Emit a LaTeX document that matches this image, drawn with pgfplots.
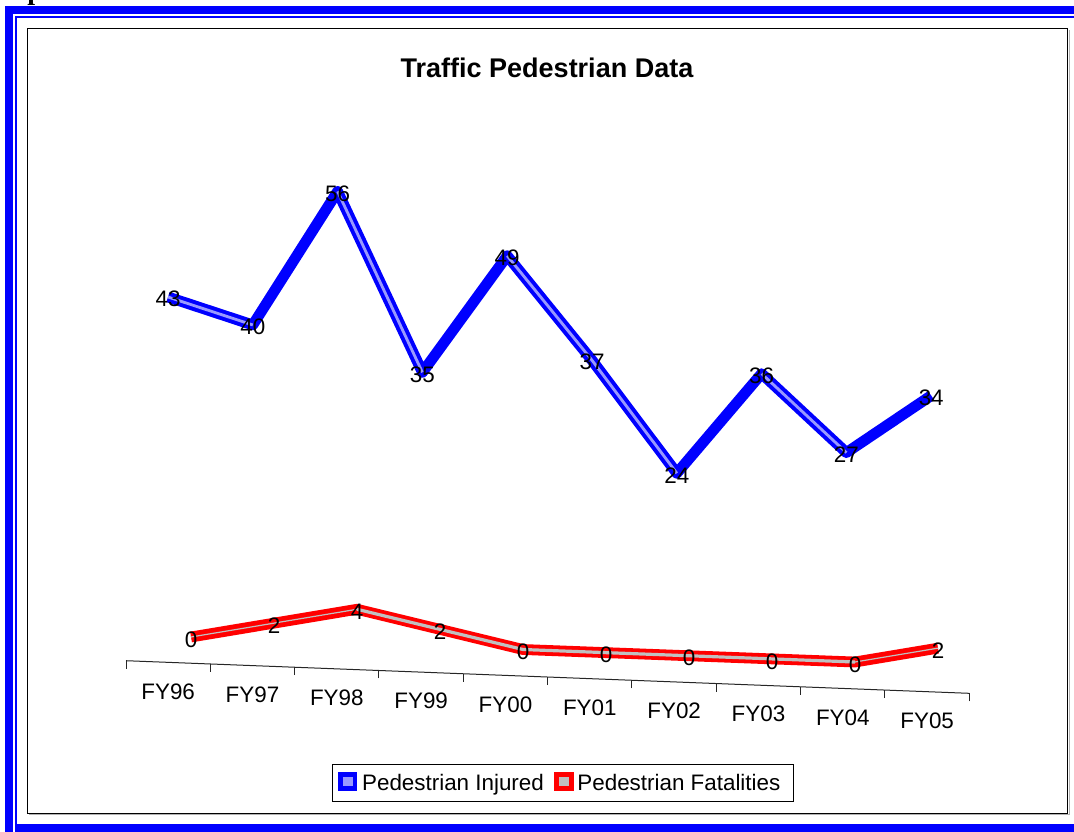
\documentclass[border=0pt]{standalone}
\usepackage{pgfplots}
\pgfplotsset{compat=1.18}
\usepackage{fontspec}
\setmainfont{Liberation Sans}
\newfontfamily\serifbold{Liberation Serif}
\definecolor{xlblue}{RGB}{0,0,255}
\definecolor{xllight}{RGB}{153,153,255}
\definecolor{xlred}{RGB}{255,0,0}
\definecolor{xlgray}{RGB}{192,192,192}
\newcommand{\lfont}{\fontsize{11.2}{13}\selectfont}
\begin{document}
\begin{tikzpicture}
\path[use as bounding box] (0pt,0pt) rectangle (537pt,-415.5pt);
% outer blue border
\fill[xlblue] (2.5pt,-3pt) rectangle (6.65pt,-420pt);
\fill[xlblue] (2.5pt,-3pt) rectangle (540pt,-7pt);
\fill[xlblue] (7.5pt,-7.85pt) rectangle (8.5pt,-420pt);
\fill[xlblue] (7.5pt,-7.85pt) rectangle (540pt,-8.85pt);
\fill[xlblue] (7.5pt,-412pt) rectangle (540pt,-420pt);
% cropped glyph at the top
\node[anchor=base west, inner sep=0pt, font=\serifbold\bfseries\fontsize{14}{14}\selectfont] at (13.5pt,0.5pt) {p};
% chart area frame
\draw[gray!60, line width=0.5pt] (14.5pt,-407.25pt) -- (534.5pt,-407.25pt) -- (534.5pt,-15pt);
\draw[black, line width=0.5pt] (13.75pt,-14.25pt) rectangle (533.75pt,-406.5pt);
% title
\node[anchor=base, inner sep=0pt, font=\bfseries\fontsize{13.5}{16}\selectfont] at (273.5pt,-38.6pt) {Traffic Pedestrian Data};

% category axis (floor edge)
\begin{axis}[
  anchor=origin, at={(63pt,-330.35pt)},
  x={(42.165pt,-1.63pt)}, y={(0pt,5pt)},
  xmin=0, xmax=10, ymin=0, ymax=1,
  axis x line*=bottom, hide y axis,
  x axis line style={-, black!85, line width=0.5pt},
  xtick={0,1,2,3,4,5,6,7,8,9,10}, xticklabels={},
  tick align=outside, major tick length=4pt,
  tick style={black!85, line width=0.5pt},
  extra x ticks={0.5,1.5,2.5,3.5,4.5,5.5,6.5,7.5,8.5,9.5},
  extra x tick labels={FY96,FY97,FY98,FY99,FY00,FY01,FY02,FY03,FY04,FY05},
  extra x tick style={major tick length=0pt},
  xticklabel style={font=\lfont, anchor=center, yshift=-14.5pt},
]
\addplot[draw=none] coordinates {(0,0) (10,1)};
\end{axis}

% Pedestrian Fatalities (back ribbon)
\begin{axis}[
  anchor=origin, at={(95.5pt,-318.5pt)},
  x={(41.5pt,-1.5625pt)}, y={(0pt,4.25pt)},
  xmin=0, xmax=9, ymin=0, ymax=10,
  hide axis, clip=false,
  unbounded coords=jump,
  /pgf/number format/assume math mode=true,
]
\addplot[xlred, line width=5.4pt, line join=round] coordinates {(0,0) (1,2) (2,4) (3,2) (4,0) (5,0) (6,0) (7,0) (8,0) (9,2)};
\addplot[xlgray, line width=1.6pt, line join=round] coordinates {(2,4) (3,2) (4,0) (5,0) (6,0) (7,0) (8,0)};
\addplot[xlgray, line width=0.6pt, line join=round] coordinates {(0,0) (1,2) (2,4) (2,nan) (8,0) (9,2)};
\addplot[draw=none, mark=none, nodes near coords,
  every node near coord/.append style={font=\lfont, text=black, anchor=center, yshift=-1.25pt, inner sep=0pt}]
  coordinates {(0,0) (1,2) (2,4) (3,2) (4,0) (5,0) (6,0) (7,0) (8,0) (9,2)};
\end{axis}

% Pedestrian Injured (front ribbon)
\begin{axis}[
  anchor=origin, at={(84pt,-331.25pt)},
  x={(42.4pt,-1.225pt)}, y={(0pt,4.25pt)},
  xmin=0, xmax=9, ymin=0, ymax=60,
  hide axis, clip=false,
  unbounded coords=jump,
  /pgf/number format/assume math mode=true,
]
\addplot[xlblue, line width=5.4pt, line join=round] coordinates {(0,43) (1,40) (2,56) (3,35) (4,49) (5,37) (6,24) (7,36) (8,27) (9,34)};
\addplot[xllight, line width=1.4pt, line join=round] coordinates {(0,43) (1,40) (1,nan) (2,56) (3,35) (3,nan) (4,49) (5,37) (6,24) (6,nan) (7,36) (8,27)};
\addplot[draw=none, mark=none, nodes near coords,
  every node near coord/.append style={font=\lfont, text=black, anchor=center, yshift=-1pt, inner sep=0pt}]
  coordinates {(0,43) (1,40) (2,56) (3,35) (4,49) (5,37) (6,24) (7,36) (8,27) (9,34)};
\end{axis}

% legend
\draw[black, line width=0.5pt] (166.35pt,-382.15pt) rectangle (396.5pt,-400.5pt);
\fill[xlblue] (169pt,-385.85pt) rectangle (178.65pt,-395.5pt);
\fill[xllight] (171.35pt,-388.25pt) rectangle (176.25pt,-393.1pt);
\node[anchor=base west, inner sep=0pt, font=\lfont] at (180.85pt,-395pt) {Pedestrian Injured};
\fill[xlred] (277.15pt,-385.85pt) rectangle (287pt,-395.5pt);
\fill[xlgray] (279.5pt,-388.25pt) rectangle (284.5pt,-393.1pt);
\node[anchor=base west, inner sep=0pt, font=\lfont] at (288.5pt,-395pt) {Pedestrian Fatalities};
\end{tikzpicture}
\end{document}
